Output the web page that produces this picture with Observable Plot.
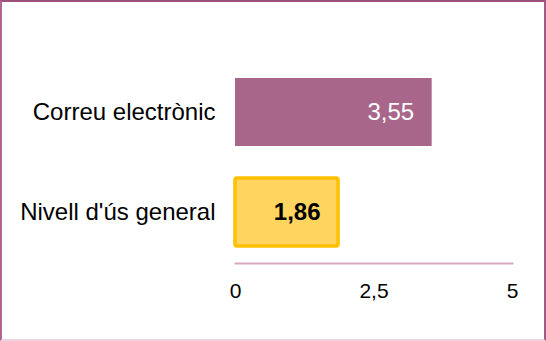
<!DOCTYPE html>
<html>
<head>
<meta charset="utf-8">
<script src="https://cdn.jsdelivr.net/npm/d3@7"></script>
<script src="https://cdn.jsdelivr.net/npm/@observablehq/plot@0.6"></script>
<style>
  html, body { margin: 0; padding: 0; background: #fff; }
  #wrap { position: relative; width: 546px; height: 341px; overflow: hidden; }
  #wrap svg { position: absolute; left: 0; top: 0; }
  #border { position: absolute; left: 0; top: 0; width: 546px; height: 341px; box-sizing: border-box;
    border-top: 2px solid #9e4f7c; border-left: 2px solid #b0668f; border-right: 2px solid #a45a84;
    border-bottom: 2px solid #ecd3e3; pointer-events: none; }
</style>
</head>
<body>
<div id="wrap"><div id="border"></div></div>
<script>
const categories = ["Correu electrònic", "Nivell d'ús general"];
const values = [3.55, 1.86];
const valueLabels = ["3,55", "1,86"];
const xTicks = [0, 2.5, 5];
const xTickLabels = ["0", "2,5", "5"];

const data = categories.map((c, i) => ({category: c, value: values[i], label: valueLabels[i], i}));
const first = data.filter(d => d.i === 0);
const second = data.filter(d => d.i === 1);

const chart = Plot.plot({
  width: 546,
  height: 341,
  marginLeft: 235,
  marginRight: 34,
  marginTop: 46,
  marginBottom: 78,
  style: {fontFamily: "'Liberation Sans', Arial, sans-serif", color: "#000", background: "transparent"},
  x: {domain: [0, 5]},
  y: {domain: categories, range: [46, 278], padding: 0.32},
  marks: [
    Plot.frame({anchor: "bottom", stroke: "#d6a9c4", strokeWidth: 2}),
    Plot.barX(first, {x: "value", y: "category", fill: "#a8678a"}),
    Plot.barX(second, {x: "value", y: "category", fill: "#ffd560", stroke: "#ffc000", strokeWidth: 3.5, rx: 2}),
    Plot.text(first, {x: "value", y: "category", text: "label", textAnchor: "end", dx: -18,
      fill: "#ffffff", fontSize: 24}),
    Plot.text(second, {x: "value", y: "category", text: "label", textAnchor: "end", dx: -18,
      fill: "#000000", fontWeight: "bold", fontSize: 24}),
    Plot.axisY({tickSize: 0, tickPadding: 20, fontSize: 24, label: null}),
    Plot.axisX({ticks: xTicks, tickFormat: d => xTickLabels[xTicks.indexOf(d)], tickSize: 0, tickPadding: 20, fontSize: 21, label: null})
  ]
});
document.getElementById("wrap").prepend(chart);
</script>
</body>
</html>
